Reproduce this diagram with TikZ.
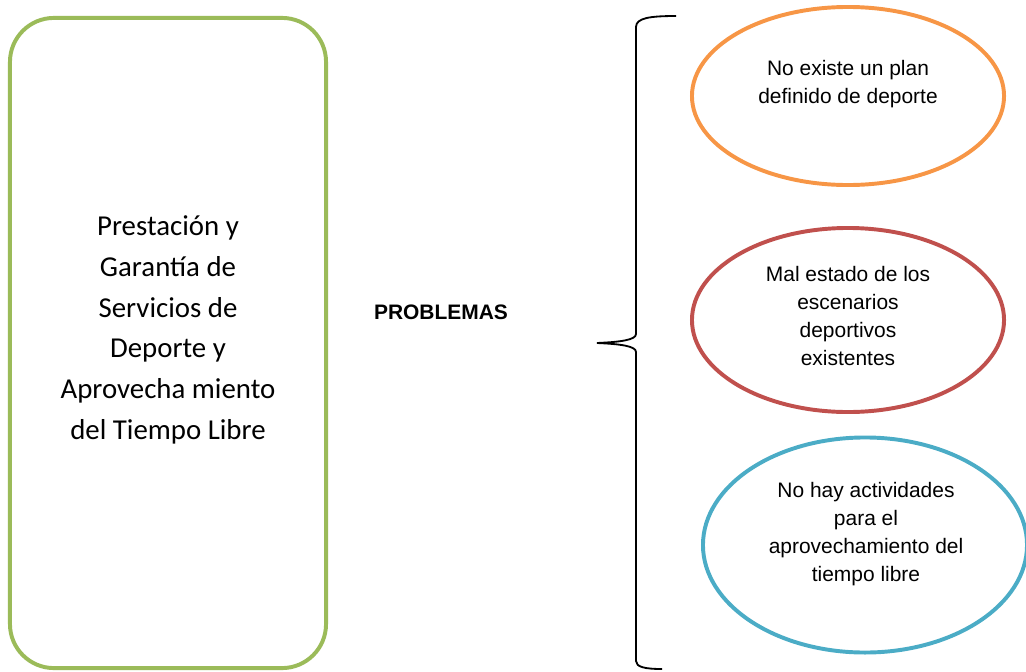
\documentclass[tikz,border=0pt]{standalone}
\usepackage{fontspec}
\setmainfont{Liberation Sans}
\newfontfamily\calibri{Carlito}
\usetikzlibrary{shapes.geometric}

\definecolor{temagreen}{HTML}{9BBB59}
\definecolor{planorange}{HTML}{F79646}
\definecolor{estadored}{HTML}{C0504D}
\definecolor{tiempoblue}{HTML}{4BACC6}

\begin{document}
\begin{tikzpicture}[
        x=0.025cm, y=-0.025cm,
        tema/.style={rectangle,draw=temagreen,line width=2.8pt,rounded corners=1.1cm,
            minimum width=7.9cm,minimum height=16.25cm,inner sep=0pt},
        problema/.style={ellipse,line width=2.8pt,inner sep=0pt,outer sep=0pt},
        temalabel/.style={align=center,font=\calibri\fontsize{20.5}{29}\selectfont},
        problabel/.style={align=center,font=\fontsize{14.9}{19.8}\selectfont}
    ]

    \useasboundingbox (0,0) rectangle (1026,671);

    \node[tema] (tema) at (168,343) {};
    \node[temalabel] (tematxt) at (168,330) {
        Prestación y\\
        Garantía de\\
        Servicios de\\
        Deporte y\\
        Aprovecha miento\\
        del Tiempo Libre
    };

    \node[problabel,font=\bfseries\fontsize{14.9}{19.8}\selectfont] (problemas) at (441,312) {PROBLEMAS};

    \node[problema,draw=planorange,minimum width=7.8cm,minimum height=4.45cm] (plan) at (848,96) {};
    \node[problema,draw=estadored,minimum width=7.8cm,minimum height=4.6cm] (estado) at (848,320) {};
    \node[problema,draw=tiempoblue,minimum width=8.1cm,minimum height=5.375cm] (tiempo) at (865,545) {};

    \node[problabel] (plantxt) at (848,84) {No existe un plan\\ definido de deporte};
    \node[problabel] (estadotxt) at (848,316) {Mal estado de los\\ escenarios\\ deportivos\\ existentes};
    \node[problabel] (tiempotxt) at (866,534) {No hay actividades\\ para el\\ aprovechamiento del\\ tiempo libre};

    \coordinate (llave) at (597,343);
    \draw[line width=1.3pt] (676,16) .. controls (650,16) and (636,18) .. (636,27)
        -- (636,334) .. controls (636,340) and (620,342) .. (llave)
        .. controls (620,344) and (636,346) .. (636,352)
        -- (636,661) .. controls (636,667) and (645,669) .. (662,669);

\end{tikzpicture}
\end{document}
